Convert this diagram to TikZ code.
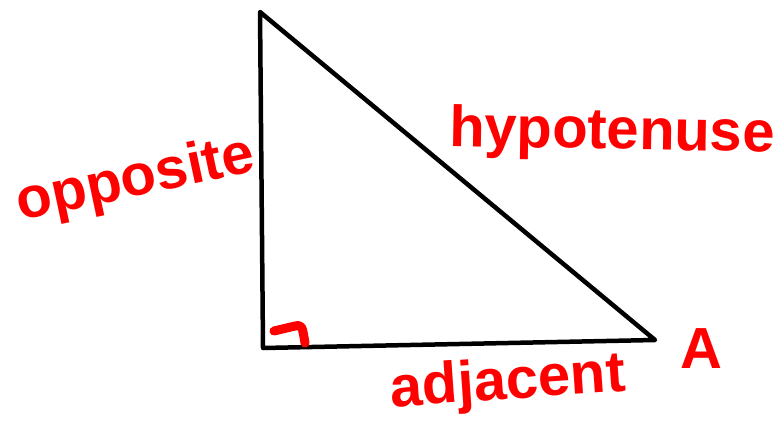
\documentclass[tikz,border=0pt]{standalone}
\usepackage{fontspec}
\setmainfont{Liberation Sans}
\usepackage{tikz}
\usetikzlibrary{positioning, calc}

\tikzset{
  label red/.style={text=red, font=\bfseries\fontsize{58}{58}\selectfont, inner sep=0pt},
}

\begin{document}
\begin{tikzpicture}[x=1pt, y=-1pt, line cap=round, line join=round]
  \useasboundingbox (0,0) rectangle (783,428);
  % Sommets du triangle
  \coordinate (top) at (260,12);
  \coordinate (B) at (263,348);
  \coordinate (A) at (655,340);
  % Triangle rectangle
  \draw[line width=4.5pt] (top) -- (B) -- (A) -- cycle;
  % Angle droit
  \draw[red, line width=9pt] (274,331) -- (295,326) .. controls (302,325) .. (305,343);
  % Noms des côtés
  \node[label red, rotate=12] (opp) at (136,181) {opposite};
  \node[label red, rotate=-1] (hyp) at (612,134) {hypotenuse};
  \node[label red, rotate=4] (adj) at (508,384) {adjacent};
  \node[label red] (angA) at (701,349) {A};
\end{tikzpicture}
\end{document}
